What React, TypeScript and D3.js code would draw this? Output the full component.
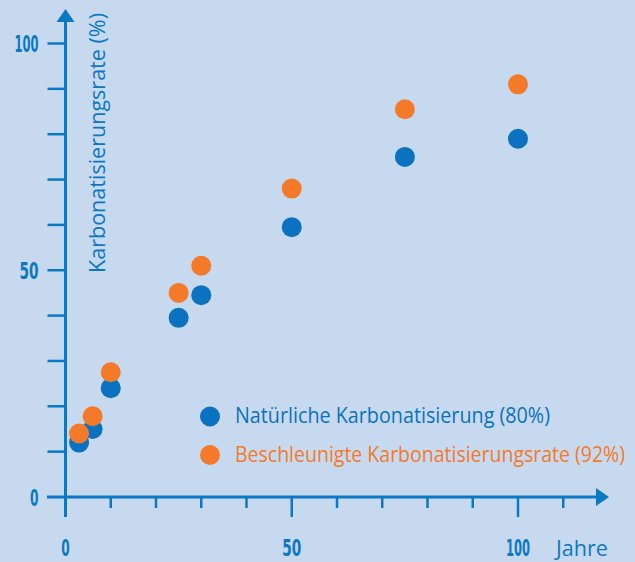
import { scaleLinear, range } from "d3";

const years = [3, 6, 10, 25, 30, 50, 75, 100];
const natural = [12, 15, 24, 39.5, 44.5, 59.5, 75, 79];
const accelerated = [14, 17.8, 27.5, 45, 51, 68, 85.5, 91];
const yTickLabels = [0, 50, 100];
const xTickLabels = [0, 50, 100];
const seriesNames = ["Natürliche Karbonatisierung (80%)", "Beschleunigte Karbonatisierungsrate (92%)"];

const blue = "#0a72c0";
const orange = "#f47a2a";
const axisBlue = "#0b78c5";
const numFont = "'DejaVu Sans', sans-serif";
const textFont = "'Open Sans', 'Noto Sans', sans-serif";

// narrow tick digits, like the condensed face in the original
const numWidth = (v: number) => String(v).length === 1 ? 8.5 : String(v).length === 2 ? 19 : 24;

export default function App() {
  const width = 635;
  const height = 562;

  const x = scaleLinear().domain([0, 100]).range([65.5, 518]);
  const y = scaleLinear().domain([0, 100]).range([497, 43.5]);

  const minorX = range(10, 111, 10);
  const minorY = range(10, 101, 10);

  return (
    <svg
      width={width}
      height={height}
      style={{ position: "absolute", top: 0, left: 0, display: "block" }}
    >
      <rect width={width} height={height} fill="#c6d9ef" />

      {/* y axis */}
      <line x1={x(0)} x2={x(0)} y1={517} y2={22} stroke={axisBlue} strokeWidth="3" />
      <path d={`M ${x(0) - 9} 22 L ${x(0)} 9 L ${x(0) + 9} 22 Z`} fill={axisBlue} />
      {minorY.map((v) => (
        <line key={v} x1={x(0) - 18} x2={x(0)} y1={y(v)} y2={y(v)} stroke={axisBlue} strokeWidth="2.5" />
      ))}

      {/* x axis */}
      <line x1={47} x2={596} y1={y(0)} y2={y(0)} stroke={axisBlue} strokeWidth="3" />
      <path d={`M 596 ${y(0) - 9} L 609 ${y(0)} L 596 ${y(0) + 9} Z`} fill={axisBlue} />
      {minorX.map((v) => (
        <line
          key={v}
          x1={x(v)}
          x2={x(v)}
          y1={y(0)}
          y2={v % 50 === 0 ? 517 : 508}
          stroke={axisBlue}
          strokeWidth="2.5"
        />
      ))}

      {yTickLabels.map((v) => (
        <text
          key={v}
          x={38.5}
          y={y(v) + 8.5}
          textAnchor="end"
          fill={axisBlue}
          fontFamily={numFont}
          fontWeight="bold"
          fontSize="23"
          textLength={numWidth(v)}
          lengthAdjust="spacingAndGlyphs"
        >
          {v}
        </text>
      ))}
      {xTickLabels.map((v) => (
        <text
          key={v}
          x={x(v) - numWidth(v) / 2}
          y={556}
          fill={axisBlue}
          fontFamily={numFont}
          fontWeight="bold"
          fontSize="23"
          textLength={numWidth(v)}
          lengthAdjust="spacingAndGlyphs"
        >
          {v}
        </text>
      ))}
      <text
        x={556}
        y={556}
        fill={axisBlue}
        fontFamily={textFont}
        fontSize="21"
        textLength={52}
        lengthAdjust="spacingAndGlyphs"
      >
        Jahre
      </text>

      <text
        transform="translate(105, 273) rotate(-90)"
        fill={axisBlue}
        fontFamily={textFont}
        fontSize="21.5"
        textLength={260}
        lengthAdjust="spacingAndGlyphs"
      >
        Karbonatisierungsrate (%)
      </text>

      {years.map((yr, i) => (
        <circle key={`n${yr}`} cx={x(yr)} cy={y(natural[i])} r="10" fill={blue} />
      ))}
      {years.map((yr, i) => (
        <circle key={`a${yr}`} cx={x(yr)} cy={y(accelerated[i])} r="10" fill={orange} />
      ))}

      {seriesNames.map((name, i) => (
        <g key={name}>
          <circle cx={210} cy={416.5 + i * 38.5} r="10" fill={i === 0 ? blue : orange} />
          <text
            x={235}
            y={423 + i * 39}
            fill={i === 0 ? blue : orange}
            fontFamily={textFont}
            fontSize="21"
            textLength={i === 0 ? 315 : 390}
            lengthAdjust="spacingAndGlyphs"
          >
            {name}
          </text>
        </g>
      ))}
    </svg>
  );
}
